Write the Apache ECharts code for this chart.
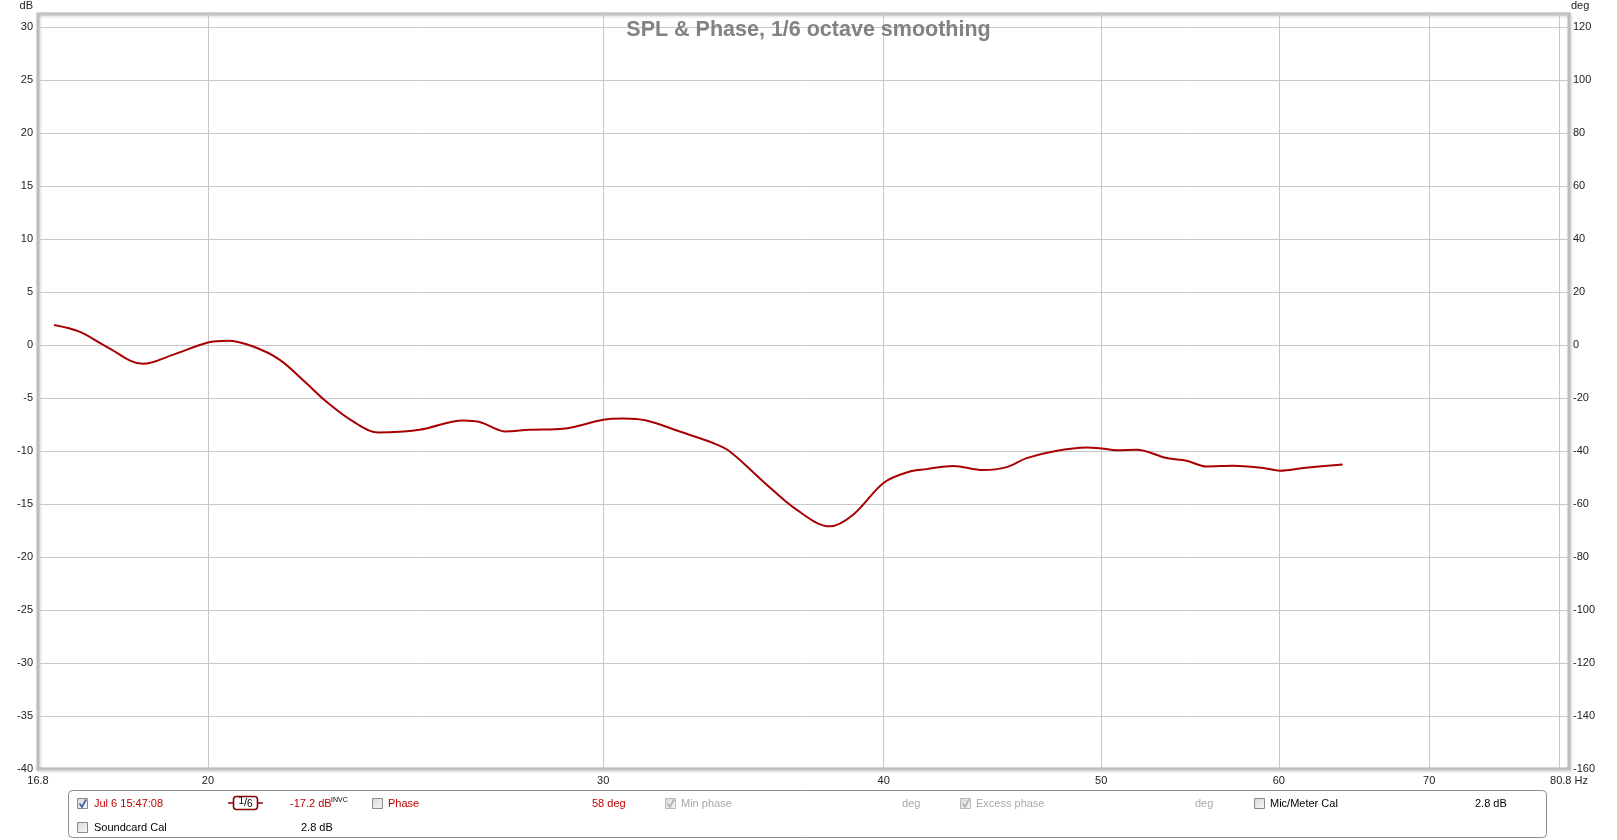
<!DOCTYPE html>
<html>
<head>
<meta charset="utf-8">
<script src="https://cdn.jsdelivr.net/npm/echarts@6/dist/echarts.min.js"></script>
<style>
  html, body { margin: 0; padding: 0; background: #ffffff; }
  #chart { width: 1617px; height: 840px; }
</style>
</head>
<body>
<div id="chart"></div>
<script>
// ---- data ----
const freqHz = [17.08, 17.53, 18.02, 18.71, 19.29, 20.00, 20.41, 20.95, 21.53, 22.12, 22.58, 23.21, 23.81,
  24.85, 25.98, 26.43, 26.93, 27.12, 27.82, 28.79, 30.00, 30.62, 31.36, 32.45, 33.58, 34.16, 35.35, 36.58,
  37.85, 38.77, 40.02, 41.09, 41.80, 42.96, 44.30, 45.38, 46.32, 47.60, 49.26, 50.03, 50.80, 51.85, 53.48,
  54.58, 55.72, 57.26, 59.05, 60.07, 61.52, 64.06];
const splDb = [1.91, 1.28, -0.13, -1.76, -0.92, 0.25, 0.41, -0.13, -1.39, -3.58, -5.32, -7.20, -8.24,
  -7.99, -7.11, -7.26, -7.99, -8.15, -7.99, -7.89, -7.04, -6.92, -7.11, -8.15, -9.24, -10.03, -12.86, -15.53,
  -17.10, -16.00, -12.96, -11.92, -11.70, -11.40, -11.79, -11.51, -10.66, -10.03, -9.66, -9.75, -9.91, -9.87, -10.66,
  -10.91, -11.45, -11.38, -11.60, -11.85, -11.60, -11.26];
const xGridValues = [20, 30, 40, 50, 60, 70, 80];
const xLabelValues = [16.8, 20, 30, 40, 50, 60, 70, 80.8];
const xRange = [16.8, 80.8];
const dbRange = [-40, 30];
const degRange = [-160, 120];
const titleText = 'SPL & Phase, 1/6 octave smoothing';
const measName = 'Jul 6 15:47:08';
const cursorDb = '-17.2 dB';
const cursorPhase = '58 deg';
const micCal = '2.8 dB';
const soundcardCal = '2.8 dB';

// ---- chart ----
const chart = echarts.init(document.getElementById('chart'), null, { renderer: 'canvas' });
const FONT = 'Liberation Sans, Arial, sans-serif';
const RED = '#c00000';
const GREY = '#a8a8a8';
// extend the vertical range a bit above the top tick so the frame sits above it
const dbTopPad = 1.25;
const degTopPad = dbTopPad * (degRange[1] - degRange[0]) / (dbRange[1] - dbRange[0]);

function checkbox(x, y, checked, enabled) {
  const children = [{
    type: 'rect', shape: { x: 0, y: 0, width: 10, height: 10 },
    style: {
      fill: new echarts.graphic.LinearGradient(0, 0, 1, 1, [
        { offset: 0, color: '#d8d8d8' }, { offset: 1, color: '#f8f8f8' }]),
      stroke: enabled ? '#8a8a8a' : '#b8b8b8', lineWidth: 1
    }
  }];
  if (checked) {
    children.push({
      type: 'polyline', shape: { points: [[2, 5], [4.5, 8.5], [8.5, 1]] },
      style: { stroke: enabled ? '#3a5aa8' : '#b0b0b0', lineWidth: 1.6, fill: null }
    });
  }
  return { type: 'group', x: x, y: y, children: children };
}
function txt(x, y, text, color, size) {
  return {
    type: 'text', x: x, y: y,
    style: { text: text, fill: color, font: (size || 11) + 'px ' + FONT, verticalAlign: 'middle' }
  };
}

const box1 = 803.5, box2 = 827.5;
const row1 = 804, row2 = 828;
const graphics = [
  { type: 'text', x: 33, y: 6, style: { text: 'dB', fill: '#222', font: '11px ' + FONT, align: 'right', verticalAlign: 'middle' } },
  txt(1571, 6, 'deg', '#222', 11),
  // legend box
  { type: 'rect', shape: { x: 68.5, y: 790.5, width: 1478, height: 47, r: 4 },
    style: { fill: '#ffffff', stroke: '#8e8e8e', lineWidth: 1 } },
  checkbox(77.5, box1 - 5, true, true),
  txt(94, row1, measName, RED),
  // smoothing icon
  { type: 'line', shape: { x1: 228, y1: 803, x2: 263, y2: 803 }, style: { stroke: '#8b0000', lineWidth: 1.5 } },
  { type: 'rect', shape: { x: 233.5, y: 796.5, width: 24, height: 13, r: 3 },
    style: { fill: '#ffffff', stroke: '#8b0000', lineWidth: 1.6 } },
  { type: 'text', x: 245.5, y: 803, style: {
      text: '{a|1}{b|/}{c|6}', align: 'center', verticalAlign: 'middle',
      rich: { a: { font: '10px ' + FONT, fill: '#000', padding: [0, 0, 3, 0] },
              b: { font: '11px ' + FONT, fill: '#000' },
              c: { font: '10px ' + FONT, fill: '#000', padding: [3, 0, 0, 0] } } } },
  txt(290, row1, cursorDb, RED),
  txt(331, row1 - 4, 'INVC', '#000', 7),
  checkbox(372.5, box1 - 5, false, true),
  txt(388, row1, 'Phase', RED),
  txt(592, row1, cursorPhase, RED),
  checkbox(665.5, box1 - 5, true, false),
  txt(681, row1, 'Min phase', GREY),
  txt(902, row1, 'deg', GREY),
  checkbox(960.5, box1 - 5, true, false),
  txt(976, row1, 'Excess phase', GREY),
  txt(1195, row1, 'deg', GREY),
  checkbox(1254.5, box1 - 5, false, true),
  txt(1270, row1, 'Mic/Meter Cal', '#000'),
  txt(1475, row1, micCal, '#000'),
  checkbox(77.5, box2 - 5, false, true),
  txt(94, row2, 'Soundcard Cal', '#000'),
  txt(301, row2, soundcardCal, '#000')
];

const option = {
  backgroundColor: '#ffffff',
  animation: false,
  title: {
    text: titleText, left: 'center', top: 14,
    textStyle: { color: '#828282', fontSize: 21.5, fontWeight: 'bold', fontFamily: FONT }
  },
  grid: {
    left: 38, top: 14, width: 1531, height: 755,
    show: true, backgroundColor: 'transparent',
    borderColor: '#bcbcbc', borderWidth: 3,
    shadowColor: 'rgba(0,0,0,0.18)', shadowBlur: 3, shadowOffsetX: 1, shadowOffsetY: 1,
    outerBoundsMode: 'none', containLabel: false
  },
  xAxis: {
    type: 'log', logBase: 10, min: xRange[0], max: xRange[1],
    axisLine: { show: false },
    axisTick: { show: false, customValues: xGridValues },
    splitLine: { show: true, lineStyle: { color: '#c8c8c8', width: 1 } },
    axisLabel: {
      customValues: xLabelValues, margin: 6, color: '#222', fontSize: 11, fontFamily: FONT,
      showMinLabel: true, showMaxLabel: true, hideOverlap: false,
      formatter: function (v) {
        const s = String(Math.round(v * 10) / 10);
        return Math.abs(v - xRange[1]) < 0.05 ? s + ' Hz' : s;
      }
    }
  },
  yAxis: [{
    type: 'value', position: 'left', min: dbRange[0], max: dbRange[1] + dbTopPad, interval: 5,
    axisLine: { show: false }, axisTick: { show: false },
    splitLine: { show: true, lineStyle: { color: '#c8c8c8', width: 1 } },
    axisLabel: { margin: 5, color: '#222', fontSize: 11, fontFamily: FONT,
      showMaxLabel: true,
      formatter: function (v) { return v > dbRange[1] ? '' : String(v); } }
  }, {
    type: 'value', position: 'right', min: degRange[0], max: degRange[1] + degTopPad, interval: 20,
    axisLine: { show: false }, axisTick: { show: false }, splitLine: { show: false },
    axisLabel: { margin: 4, color: '#222', fontSize: 11, fontFamily: FONT,
      formatter: function (v) { return v > degRange[1] ? '' : String(v); } }
  }],
  series: [{
    type: 'line', name: measName, yAxisIndex: 0,
    data: freqHz.map(function (f, i) { return [f, splDb[i]]; }),
    showSymbol: false, smooth: 0.35,
    lineStyle: { color: '#a80000', width: 2 },
    z: 5
  }],
  graphic: graphics
};
chart.setOption(option);
</script>
</body>
</html>
